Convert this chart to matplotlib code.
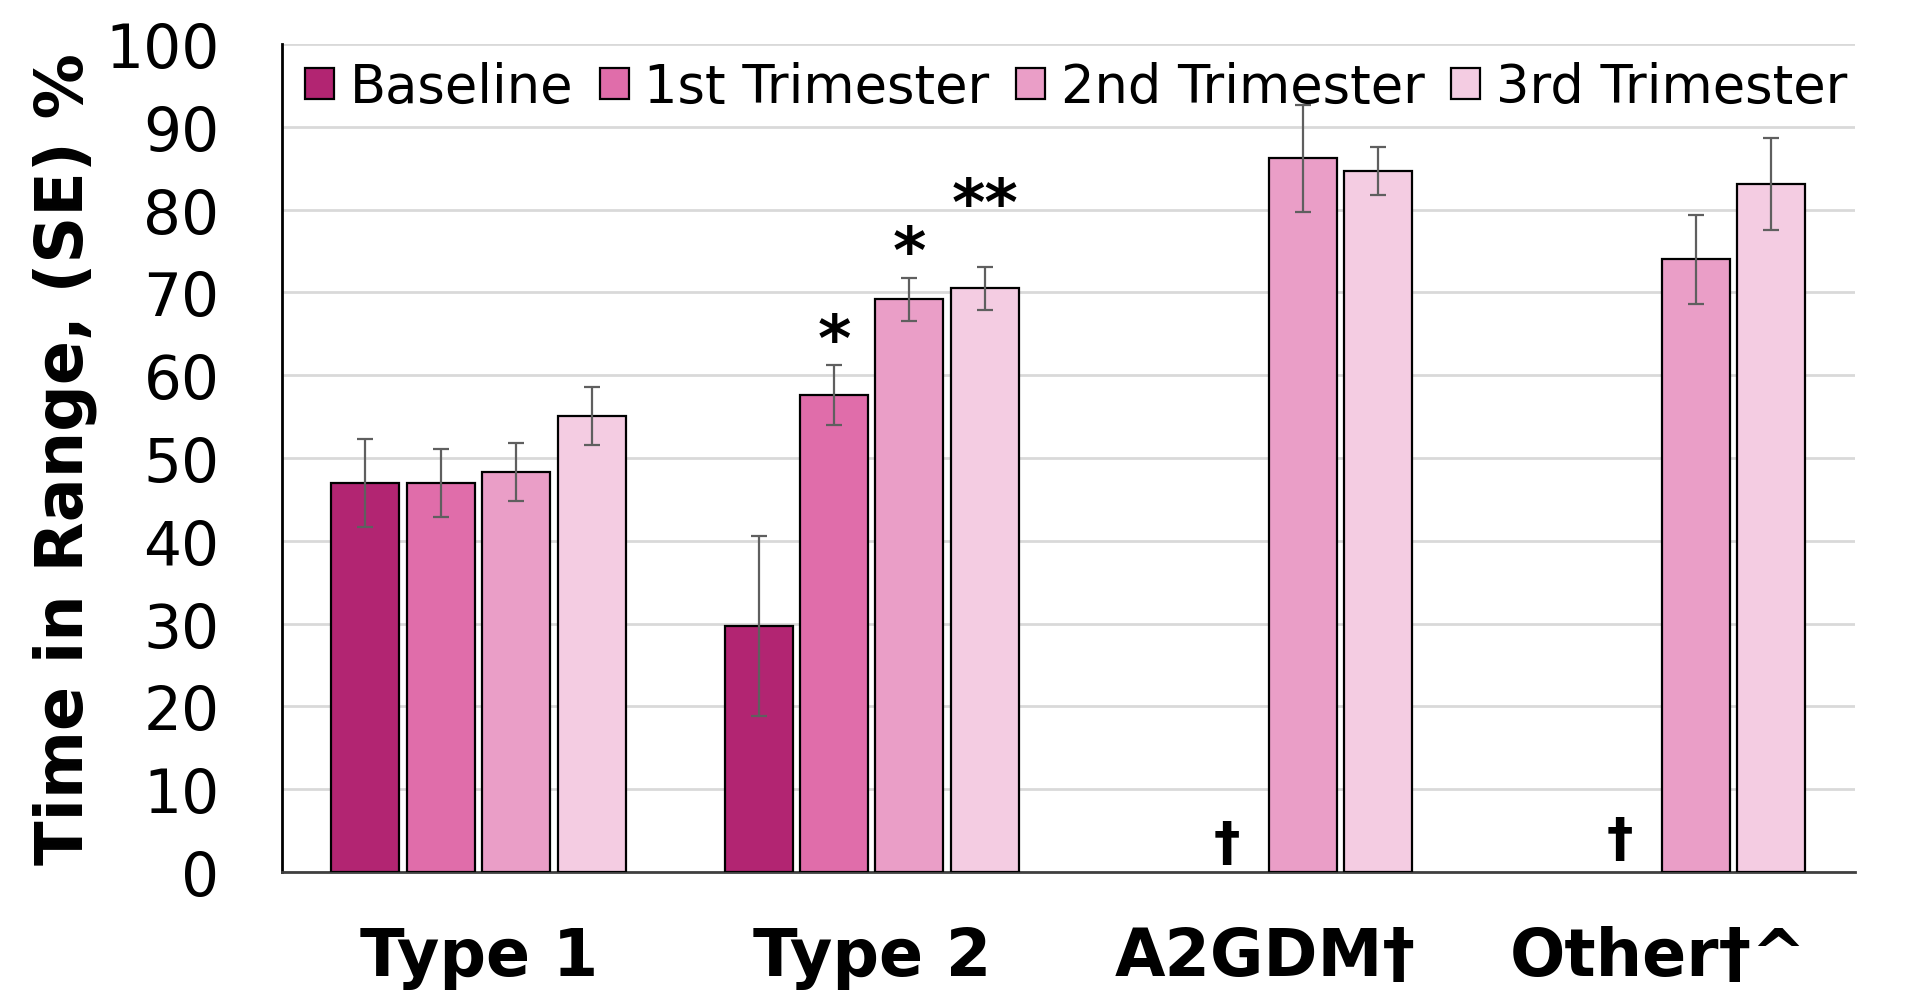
import matplotlib
matplotlib.use("Agg")
import matplotlib.pyplot as plt
import numpy as np

categories = ["Type 1", "Type 2", "A2GDM\u2020", "Other\u2020^"]
series = ["Baseline", "1st Trimester", "2nd Trimester", "3rd Trimester"]
values = {
    "Baseline":      [47.0, 29.7, np.nan, np.nan],
    "1st Trimester": [47.0, 57.6, np.nan, np.nan],
    "2nd Trimester": [48.3, 69.2, 86.2, 74.0],
    "3rd Trimester": [55.1, 70.5, 84.7, 83.1],
}
errors = {
    "Baseline":      [5.3, 10.9, np.nan, np.nan],
    "1st Trimester": [4.1, 3.6, np.nan, np.nan],
    "2nd Trimester": [3.5, 2.6, 6.5, 5.4],
    "3rd Trimester": [3.5, 2.6, 2.9, 5.5],
}
colors = ["#B22572", "#E06DAA", "#EA9EC7", "#F4CCE2"]
# significance annotations: (category index, series index, text, y)
stars = [(1, 1, "*", 64.0), (1, 2, "*", 74.6), (1, 3, "**", 80.4)]
daggers = [(2, 1, "\u2020", 3.4), (3, 1, "\u2020", 3.9)]

fig = plt.figure(figsize=(19.06, 10.03), dpi=100)
ax = fig.add_axes([0.148, 0.1298, 0.825, 0.8252])

x = np.arange(len(categories))
pitch = 0.192
width = 0.173
for i, s in enumerate(series):
    pos = x + (i - 1.5) * pitch
    v = np.array(values[s])
    e = np.array(errors[s])
    ax.bar(pos, v, width, color=colors[i], edgecolor="black", linewidth=1.6,
           label=s, zorder=3)
    ax.errorbar(pos, v, yerr=e, fmt="none", ecolor="#5f5f5f", elinewidth=1.6,
                capsize=6, capthick=1.6, zorder=4)

for ci, si, t, yy in stars:
    pos = x[ci] + (si - 1.5) * pitch
    ax.text(pos, yy, t, ha="center", va="center", fontsize=46,
            fontweight="bold")
for ci, si, t, yy in daggers:
    pos = x[ci] + (si - 1.5) * pitch
    ax.text(pos, yy, t, ha="center", va="center", fontsize=38,
            fontweight="bold")

ax.set_xlim(-0.5, 3.5)
ax.set_ylim(0, 100)
ax.set_yticks(np.arange(0, 101, 10))
ax.yaxis.grid(True, color="#d9d9d9", linewidth=2, zorder=0)
ax.set_axisbelow(True)
ax.tick_params(axis="y", length=0, labelsize=43, pad=45)
ax.tick_params(axis="x", length=0, labelsize=47, pad=38)
ax.set_xticks(x)
ax.set_xticklabels(categories, fontweight="bold")
ax.set_ylabel("Time in Range, (SE) %", fontsize=47, fontweight="bold",
              labelpad=6)
ax.spines["top"].set_visible(False)
ax.spines["right"].set_visible(False)
ax.spines["left"].set_color("black")
ax.spines["left"].set_linewidth(2)
ax.spines["bottom"].set_color("#404040")
ax.spines["bottom"].set_linewidth(2)

leg = ax.legend(loc="upper center", bbox_to_anchor=(0.505, 1.005), ncol=4,
                frameon=False, fontsize=38, handlelength=0.55,
                handleheight=0.55, handletextpad=0.3, columnspacing=0.5,
                borderaxespad=0.0)

fig.savefig("out.png", dpi=100, facecolor="white")
